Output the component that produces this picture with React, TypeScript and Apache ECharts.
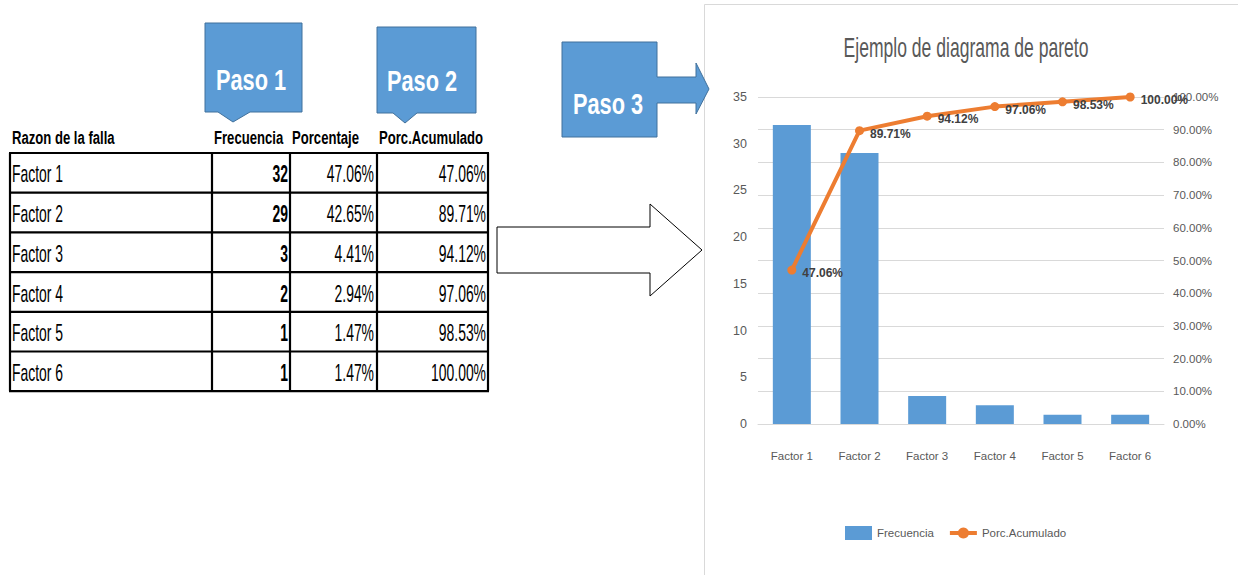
import React, { useEffect, useRef } from "react";
import * as echarts from "echarts";

const factors = ["Factor 1", "Factor 2", "Factor 3", "Factor 4", "Factor 5", "Factor 6"];
const frecuencia = [32, 29, 3, 2, 1, 1];
const porcentaje = [47.06, 42.65, 4.41, 2.94, 1.47, 1.47];
const acumulado = [47.06, 89.71, 94.12, 97.06, 98.53, 100.0];
const headers = ["Razon de la falla", "Frecuencia", "Porcentaje", "Porc.Acumulado"];
const pasos = ["Paso 1", "Paso 2", "Paso 3"];
const chartTitle = "Ejemplo de diagrama de pareto";

const FONT = "'Liberation Sans', Arial, sans-serif";
const GRAY = "#595959";
const BLUE = "#5B9BD5";
const BLUE_DARK = "#41719C";
const ORANGE = "#ED7D31";

function buildGraphic() {
  const g: any[] = [];
  // chart frame
  g.push({
    type: "rect",
    z: 0,
    shape: { x: 704.5, y: 4.5, width: 700, height: 700 },
    style: { fill: "none", stroke: "#D9D9D9", lineWidth: 1 },
  });
  // title
  g.push({
    type: "text",
    x: 966,
    y: 48,
    scaleX: 0.65,
    style: {
      text: chartTitle,
      font: `27px ${FONT}`,
      fill: GRAY,
      textAlign: "center",
      textVerticalAlign: "middle",
    },
  });

  // table
  const colX = [10, 212, 290, 377, 488];
  const top = 153;
  const rowH = 39.7;
  const n = factors.length;
  const bottom = top + rowH * n;
  const lw = 2.2;
  for (let i = 0; i <= n; i++) {
    const y = top + i * rowH;
    g.push({
      type: "line",
      shape: { x1: colX[0] - 1, y1: y, x2: colX[4] + 1, y2: y },
      style: { stroke: "#000", lineWidth: lw },
    });
  }
  colX.forEach((x) => {
    g.push({
      type: "line",
      shape: { x1: x, y1: top, x2: x, y2: bottom },
      style: { stroke: "#000", lineWidth: lw },
    });
  });

  const bodyFont = (bold: boolean) => `${bold ? "bold " : ""}24px ${FONT}`;
  const bodyScale = 0.58;
  const headerFont = `bold 19px ${FONT}`;
  const headerScale = 0.69;
  const headerX = [12, 214, 292, 379];
  headers.forEach((h, i) => {
    g.push({
      type: "text",
      x: headerX[i],
      y: 137,
      scaleX: headerScale,
      style: { text: h, font: headerFont, fill: "#000", textAlign: "left", textVerticalAlign: "middle" },
    });
  });
  for (let i = 0; i < n; i++) {
    const cy = top + (i + 0.5) * rowH + 1;
    g.push({
      type: "text",
      x: 12,
      y: cy,
      scaleX: bodyScale,
      style: { text: factors[i], font: bodyFont(false), fill: "#000", textAlign: "left", textVerticalAlign: "middle" },
    });
    g.push({
      type: "text",
      x: 288,
      y: cy,
      scaleX: bodyScale,
      style: { text: String(frecuencia[i]), font: bodyFont(true), fill: "#000", textAlign: "right", textVerticalAlign: "middle" },
    });
    g.push({
      type: "text",
      x: 374,
      y: cy,
      scaleX: bodyScale,
      style: { text: porcentaje[i].toFixed(2) + "%", font: bodyFont(false), fill: "#000", textAlign: "right", textVerticalAlign: "middle" },
    });
    g.push({
      type: "text",
      x: 486,
      y: cy,
      scaleX: bodyScale,
      style: { text: acumulado[i].toFixed(2) + "%", font: bodyFont(false), fill: "#000", textAlign: "right", textVerticalAlign: "middle" },
    });
  }

  // callouts
  const calloutStyle = { fill: BLUE, stroke: BLUE_DARK, lineWidth: 1 };
  g.push({
    type: "polygon",
    shape: { points: [[205, 23], [302, 23], [302, 112], [250, 112], [233, 122], [218, 112], [205, 112]] },
    style: calloutStyle,
  });
  g.push({
    type: "polygon",
    shape: { points: [[377, 27], [476, 27], [476, 113], [417, 113], [405, 123], [393, 113], [377, 113]] },
    style: calloutStyle,
  });
  g.push({
    type: "polygon",
    z: 10,
    shape: {
      points: [[562, 42], [657, 42], [657, 77], [696, 77], [696, 63], [709, 89], [696, 114], [696, 103], [657, 103], [657, 137], [562, 137]],
    },
    style: calloutStyle,
  });
  // big white arrow
  g.push({
    type: "polygon",
    shape: { points: [[497, 227], [650, 227], [650, 204], [702, 250], [650, 296], [650, 273], [497, 273]] },
    style: { fill: "#fff", stroke: "#000", lineWidth: 1 },
  });

  const pasoPos = [
    [251, 80],
    [422, 81],
    [608, 104],
  ];
  pasos.forEach((p, i) => {
    g.push({
      type: "text",
      z: 11,
      x: pasoPos[i][0],
      y: pasoPos[i][1],
      scaleX: 0.75,
      style: {
        text: p,
        font: `bold 29px ${FONT}`,
        fill: "#fff",
        textAlign: "center",
        textVerticalAlign: "middle",
      },
    });
  });
  return g;
}

export default function App() {
  const ref = useRef<HTMLDivElement>(null);
  useEffect(() => {
    if (!ref.current) return;
    const chart = echarts.init(ref.current, null, { renderer: "svg" });
    chart.setOption({
      animation: false,
      backgroundColor: "#fff",
      textStyle: { fontFamily: FONT },
      grid: { left: 758, right: 74, top: 97, bottom: 151, containLabel: false },
      legend: {
        left: 840,
        top: 521,
        itemWidth: 27,
        itemHeight: 14,
        itemGap: 14,
        textStyle: { color: GRAY, fontSize: 11.5, fontFamily: FONT },
        data: [
          { name: "Frecuencia", icon: "rect" },
          { name: "Porc.Acumulado", lineStyle: { width: 4, color: ORANGE } },
        ],
      },
      xAxis: {
        type: "category",
        data: factors,
        axisLine: { lineStyle: { color: "#D9D9D9" } },
        axisTick: { show: false },
        axisLabel: { color: GRAY, fontSize: 11.5, margin: 26, fontFamily: FONT },
      },
      yAxis: [
        {
          type: "value",
          min: 0,
          max: 35,
          interval: 5,
          position: "left",
          axisLine: { show: false },
          axisTick: { show: false },
          splitLine: { show: false },
          axisLabel: { color: GRAY, fontSize: 12.5, margin: 11, fontFamily: FONT },
        },
        {
          type: "value",
          min: 0,
          max: 100,
          interval: 10,
          position: "right",
          axisLine: { show: false },
          axisTick: { show: false },
          splitLine: { show: true, lineStyle: { color: "#D9D9D9", width: 1 } },
          axisLabel: {
            color: GRAY,
            fontSize: 11.5,
            margin: 9,
            fontFamily: FONT,
            formatter: (v: number) => v.toFixed(2) + "%",
          },
        },
      ],
      series: [
        {
          type: "bar",
          name: "Frecuencia",
          data: frecuencia,
          barWidth: 38,
          itemStyle: { color: BLUE },
        },
        {
          type: "line",
          name: "Porc.Acumulado",
          yAxisIndex: 1,
          data: acumulado,
          symbol: "circle",
          symbolSize: 9,
          lineStyle: { color: ORANGE, width: 4 },
          itemStyle: { color: ORANGE },
          label: {
            show: true,
            position: "right",
            distance: 6,
            offset: [0, 3],
            fontWeight: "bold",
            fontSize: 12,
            color: "#404040",
            fontFamily: FONT,
            formatter: (p: any) => Number(p.value).toFixed(2) + "%",
          },
        },
      ],
      graphic: buildGraphic(),
    });
    return () => chart.dispose();
  }, []);
  return (
    <div
      ref={ref}
      style={{ position: "fixed", left: 0, top: 0, width: 1238, height: 575, background: "#fff" }}
    />
  );
}
